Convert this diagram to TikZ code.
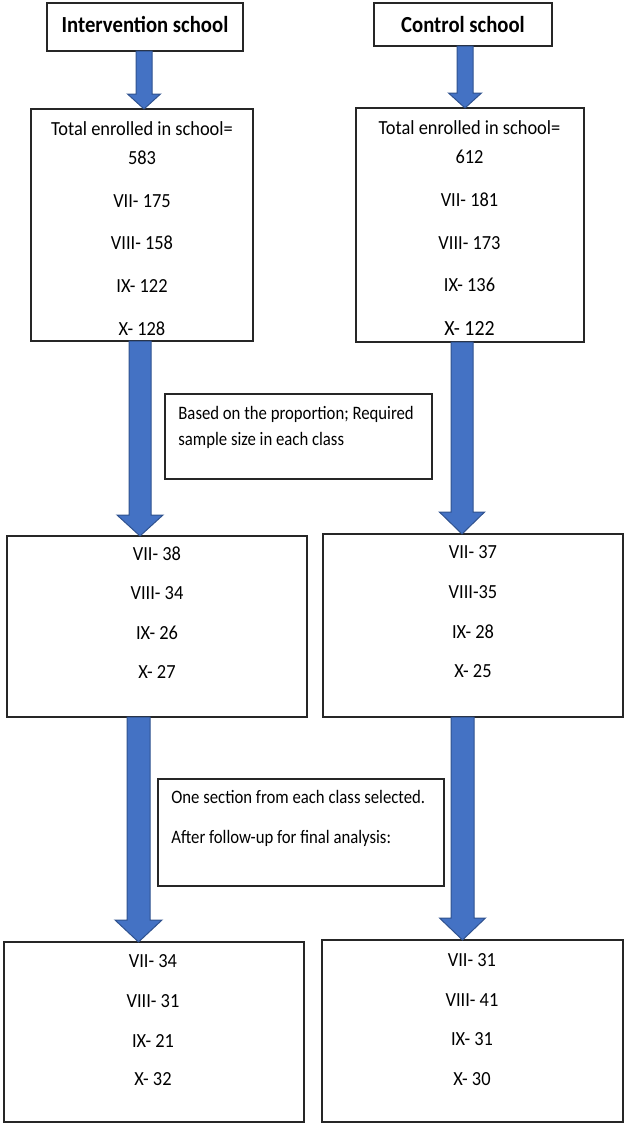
\documentclass[tikz,border=0pt]{standalone}
\usepackage{fontspec}
\setmainfont{Carlito}[FakeStretch=0.92]
\newfontfamily\titlefont{Carlito}[FakeStretch=0.9]
\newfontfamily\notefont{Carlito}[FakeStretch=0.88]
\usetikzlibrary{calc}
\definecolor{arrfill}{HTML}{4472C4}
\definecolor{arredge}{HTML}{2F528F}
\newcommand\blockarrow[5]{%
  \filldraw[blkarrow] let \p1=(#1), \p2=(#2) in
   (\x1-#3,\y1) -- (\x1+#3,\y1) -- (\x1+#3,\y2+#5) -- (\x1+#4,\y2+#5)
   -- (\x1,\y2) -- (\x1-#4,\y2+#5) -- (\x1-#3,\y2+#5) -- cycle;}
\begin{document}
\begin{tikzpicture}[x=0.5pt,y=-0.5pt,
  box/.style={draw=black!85,line width=0.7pt,inner sep=0pt,outer sep=0pt,fill=white},
  num/.style={anchor=base,inner sep=0pt,font=\fontsize{10}{12}\selectfont},
  bignum/.style={anchor=base,inner sep=0pt,font=\fontsize{10.8}{12}\selectfont},
  note/.style={anchor=base west,inner sep=0pt,font=\notefont\fontsize{9.5}{11}\selectfont},
  title/.style={anchor=base,inner sep=0pt,font=\titlefont\bfseries\fontsize{11.5}{13}\selectfont},
  blkarrow/.style={fill=arrfill,draw=arredge,line width=0.5pt,line join=miter}]
\useasboundingbox (0,0) rectangle (624,1125);
% boxes
\node[box,minimum width=98pt,minimum height=24pt] (b1) at (145,27) {};
\node[box,minimum width=89pt,minimum height=21.5pt] (b2) at (463,24.5) {};
\node[box,minimum width=111pt,minimum height=116pt] (i2) at (142,225) {};
\node[box,minimum width=114pt,minimum height=117pt] (c2) at (470,225) {};
\node[box,minimum width=133.5pt,minimum height=42.5pt] (m1) at (298.5,436.5) {};
\node[box,minimum width=150pt,minimum height=90.5pt] (i3) at (157,626.5) {};
\node[box,minimum width=150pt,minimum height=91.5pt] (c3) at (473,625.5) {};
\node[box,minimum width=143pt,minimum height=53.5pt] (m2) at (301,832.5) {};
\node[box,minimum width=150pt,minimum height=90pt] (i4) at (154,1032) {};
\node[box,minimum width=150.5pt,minimum height=91pt] (c4) at (472.5,1031) {};
% arrow axes
\coordinate (ax1) at (144,0);
\coordinate (ax2) at (465,0);
\coordinate (ax3) at (140,0);
\coordinate (ax4) at (462,0);
\coordinate (ax5) at (138.5,0);
\coordinate (ax6) at (462.5,0);
\blockarrow{ax1 |- b1.south}{ax1 |- i2.north}{4pt}{8.25pt}{7.5pt}
\blockarrow{ax2 |- b2.south}{ax2 |- c2.north}{4pt}{8.25pt}{7.5pt}
\blockarrow{ax3 |- i2.south}{ax3 |- i3.north}{5.5pt}{11.5pt}{10.5pt}
\blockarrow{ax4 |- c2.south}{ax4 |- c3.north}{5.5pt}{11.3pt}{11pt}
\blockarrow{ax5 |- i3.south}{ax5 |- i4.north}{5.75pt}{11.75pt}{11pt}
\blockarrow{ax6 |- c3.south}{ax6 |- c4.north}{5.75pt}{11.5pt}{11pt}
% titles
\node[title] (b1t) at (145,32) {Intervention school};
\node[title] (b2t) at (463,32) {Control school};
% intervention totals
\node[num] (i2a) at (142,135) {Total enrolled in school=};
\node[num] (i2b) at (142,164) {583};
\node[num] (i2c) at (142,207) {VII- 175};
\node[num] (i2d) at (142,249) {VIII- 158};
\node[num] (i2e) at (142,292) {IX- 122};
\node[num] (i2f) at (142,335) {X- 128};
% control totals
\node[num] (c2a) at (469.5,134) {Total enrolled in school=};
\node[num] (c2b) at (469.5,163) {612};
\node[num] (c2c) at (469.5,206) {VII- 181};
\node[num] (c2d) at (469.5,249) {VIII- 173};
\node[num] (c2e) at (469.5,291) {IX- 136};
\node[bignum] (c2f) at (469.5,335) {X- 122};
% note 1
\node[note] (m1a) at (178,419) {Based on the proportion; Required};
\node[note] (m1b) at (178,445) {sample size in each class};
% samples
\node[num] (i3a) at (157,560) {VII- 38};
\node[num] (i3b) at (157,599) {VIII- 34};
\node[num] (i3c) at (157,639) {IX- 26};
\node[num] (i3d) at (157,678) {X- 27};
\node[num] (c3a) at (473,558) {VII- 37};
\node[num] (c3b) at (473,598) {VIII-35};
\node[num] (c3c) at (473,638) {IX- 28};
\node[num] (c3d) at (473,677) {X- 25};
% note 2
\node[note] (m2a) at (171,803) {One section from each class selected.};
\node[note] (m2b) at (171,843) {After follow-up for final analysis:};
% final
\node[num] (i4a) at (153,967) {VII- 34};
\node[num] (i4b) at (153,1007) {VIII- 31};
\node[num] (i4c) at (153,1047) {IX- 21};
\node[num] (i4d) at (153,1085) {X- 32};
\node[num] (c4a) at (472,966) {VII- 31};
\node[num] (c4b) at (472,1006) {VIII- 41};
\node[num] (c4c) at (472,1045) {IX- 31};
\node[num] (c4d) at (472,1085) {X- 30};
\end{tikzpicture}
\end{document}
